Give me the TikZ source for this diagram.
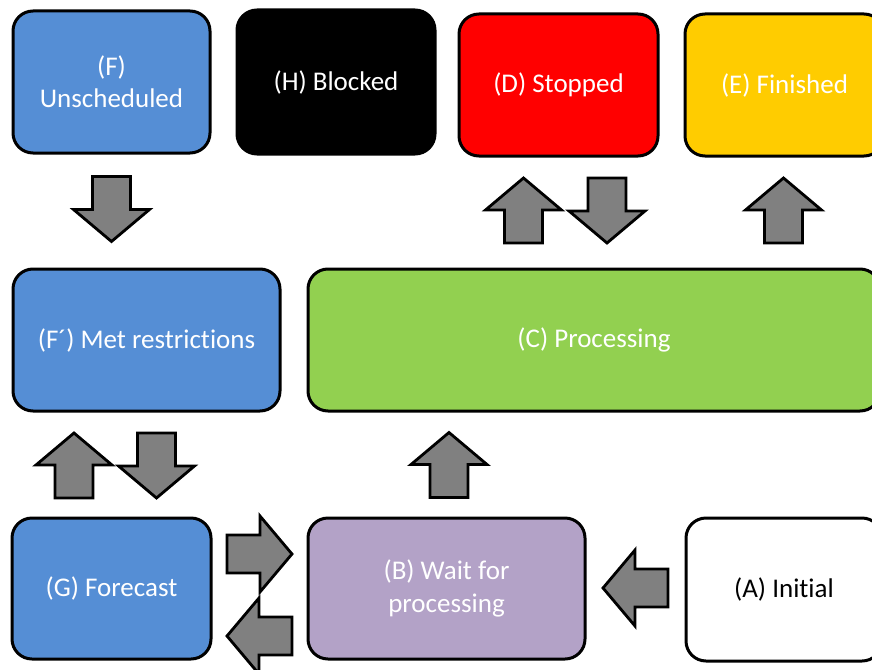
\documentclass[tikz,border=0pt]{standalone}
\usepackage{fontspec}
\setmainfont{Carlito}[Ligatures=NoCommon]
\definecolor{cblue}{HTML}{558ED5}
\definecolor{cred}{HTML}{FF0000}
\definecolor{cyellow}{HTML}{FFCC00}
\definecolor{cgreen}{HTML}{92D050}
\definecolor{clav}{HTML}{B3A2C7}
\definecolor{cgray}{HTML}{808080}
\tikzset{
  state/.style={draw=black, line width=3pt, rounded corners=20pt, text=white,
    align=center, font=\fontsize{27}{32.4}\selectfont, inner sep=0pt},
  arrowstyle/.style={draw=black, fill=cgray, line width=2.8pt, line join=miter},
  blockarrow/.pic={\draw[arrowstyle] (-19,32.5) -- (-19,-0.5) -- (-38,-0.5) -- (0,-32.5)
     -- (38,-0.5) -- (19,-0.5) -- (19,32.5) -- cycle;}
}
\begin{document}
\begin{tikzpicture}[x=1pt,y=-1pt]
\clip (0,0) rectangle (872,669);
\fill[white] (0,0) rectangle (872,669);
% states
\node[state, fill=cblue, minimum width=197pt, minimum height=142pt] (F) at (111.5,82) {(F)\\Unscheduled};
\node[state, fill=black, minimum width=198pt, minimum height=144pt] (H) at (336,82) {(H) Blocked};
\node[state, fill=cred, minimum width=199pt, minimum height=142pt] (D) at (558.5,85) {(D) Stopped};
\node[state, fill=cyellow, minimum width=199pt, minimum height=142pt] (E) at (784.5,85) {(E) Finished};
\node[state, fill=cblue, minimum width=267pt, minimum height=142pt] (Fp) at (146.5,340) {(F´) Met restrictions};
\node[state, fill=cgreen, minimum width=572pt, minimum height=142pt] (C) at (594,340) {(C) Processing};
\node[state, fill=cblue, minimum width=199pt, minimum height=141pt] (G) at (111.5,588.5) {(G) Forecast};
\node[state, fill=clav, minimum width=277pt, minimum height=141pt] (B) at (446.5,588.5) {(B) Wait for\\processing};
\node[state, fill=white, text=black, minimum width=196pt, minimum height=143pt] (A) at (784,589.5) {(A) Initial};
% block arrows
\pic[rotate=180] at (111.5,209) {blockarrow};
\pic at (523.5,210.5) {blockarrow};
\pic[rotate=180] at (607,210.5) {blockarrow};
\pic at (783.5,210.5) {blockarrow};
\pic at (74,465.5) {blockarrow};
\pic[rotate=180] at (156.5,465.5) {blockarrow};
\pic at (449,465) {blockarrow};
\pic[rotate=-90] at (259.5,554) {blockarrow};
\pic[rotate=90] at (259.5,636) {blockarrow};
\pic[rotate=90] at (635.5,588) {blockarrow};
\end{tikzpicture}
\end{document}
